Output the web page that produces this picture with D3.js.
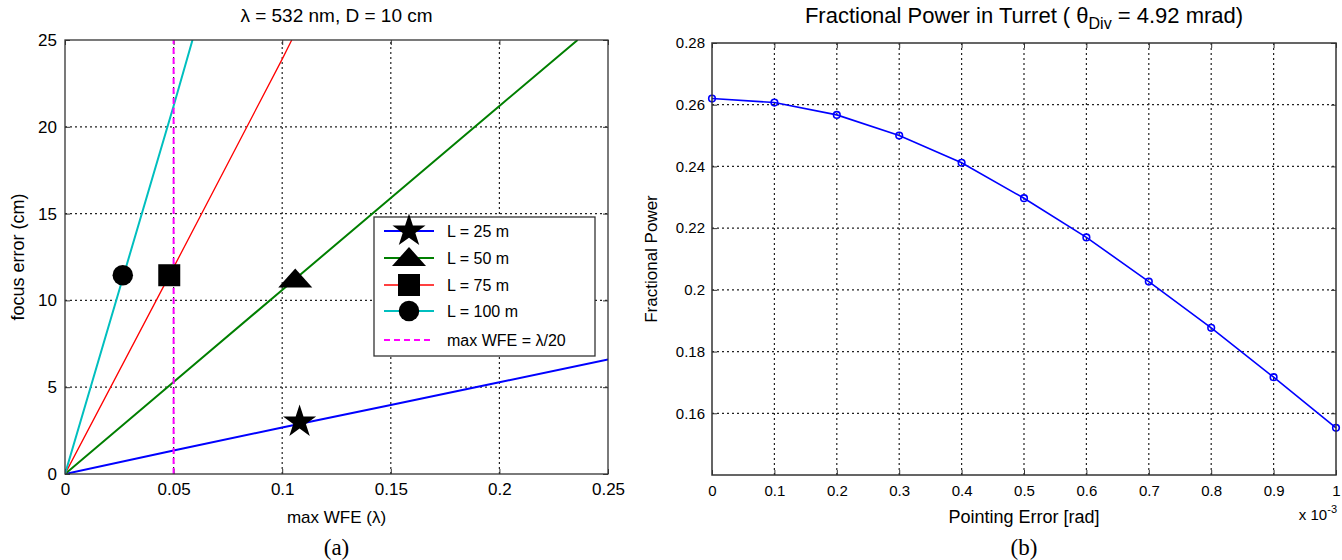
<!DOCTYPE html>
<html><head><meta charset="utf-8">
<script src="https://cdn.jsdelivr.net/npm/d3@7/dist/d3.min.js"></script>
<style>
body{margin:0;background:#fff}
svg{display:block}
text{font-family:"Liberation Sans",Arial,sans-serif;fill:#000}
</style></head>
<body><svg id="c" width="1342" height="560"></svg>
<script>
// ---------- Data: chart (a) ----------
const wfe25 = [0, 0.05, 0.1, 0.15, 0.2, 0.25];
const focus25 = [0, 1.35, 2.68, 3.98, 5.28, 6.6];
const wfe50 = [0, 0.05, 0.1, 0.15, 0.2, 0.236];
const focus50 = [0, 5.3, 10.6, 15.9, 21.2, 25];
const wfe75 = [0, 0.05, 0.1, 0.1044];
const focus75 = [0, 11.9, 23.9, 25];
const wfe100 = [0, 0.025, 0.05, 0.0587];
const focus100 = [0, 10.6, 21.2, 25];
const seriesNames = ["L = 25 m", "L = 50 m", "L = 75 m", "L = 100 m"];
const markerWFE = [0.108, 0.106, 0.048, 0.0266];
const markerFocus = [3.0, 11.2, 11.45, 11.45];
const limitWFE = 0.05;
const limitName = "max WFE = \u03bb/20";
const xTicksA = [0, 0.05, 0.1, 0.15, 0.2, 0.25];
const xTickLabelsA = ["0", "0.05", "0.1", "0.15", "0.2", "0.25"];
const yTicksA = [0, 5, 10, 15, 20, 25];

// ---------- Data: chart (b) ----------
const pointErr = [0, 0.1, 0.2, 0.3, 0.4, 0.5, 0.6, 0.7, 0.8, 0.9, 1.0]; // x 10^-3 rad
const fracPower = [0.262, 0.2607, 0.2567, 0.2500, 0.2412, 0.2297, 0.2170, 0.2027, 0.1877, 0.1717, 0.1553];
const xTicksB = [0, 0.1, 0.2, 0.3, 0.4, 0.5, 0.6, 0.7, 0.8, 0.9, 1.0];
const xTickLabelsB = ["0", "0.1", "0.2", "0.3", "0.4", "0.5", "0.6", "0.7", "0.8", "0.9", "1"];
const yTicksB = [0.16, 0.18, 0.2, 0.22, 0.24, 0.26, 0.28];
const yTickLabelsB = ["0.16", "0.18", "0.2", "0.22", "0.24", "0.26", "0.28"];

const svg = d3.select("#c");
const gridDash = "2,3";

function frame(g, x, y, xt, xl, yt, yl, fs, pad) {
  const [x0, x1] = x.range(), [y0, y1] = y.range();
  g.append("g").selectAll("line").data(xt.filter(v => x(v) > x0 + 1 && x(v) < x1 - 1)).join("line")
    .attr("x1", d => x(d)).attr("x2", d => x(d)).attr("y1", y0).attr("y2", y1)
    .attr("stroke", "#222").attr("stroke-width", 1.2).attr("stroke-dasharray", gridDash);
  g.append("g").selectAll("line").data(yt.filter(v => y(v) < y0 - 1 && y(v) > y1 + 1)).join("line")
    .attr("y1", d => y(d)).attr("y2", d => y(d)).attr("x1", x0).attr("x2", x1)
    .attr("stroke", "#222").attr("stroke-width", 1.2).attr("stroke-dasharray", gridDash);
  const ax = (a, t) => {
    t.call(a);
    t.select(".domain").remove();
    t.selectAll(".tick line").attr("stroke", "#333");
    t.selectAll("text").style("font-family", fs.family).style("font-size", fs.size + "px").attr("fill", "#000");
  };
  ax(d3.axisBottom(x).tickValues(xt).tickSize(-5).tickPadding(pad.x).tickFormat((d, i) => xl[i]),
     g.append("g").attr("transform", `translate(0,${y0})`));
  ax(d3.axisTop(x).tickValues(xt).tickSize(-5).tickFormat(""),
     g.append("g").attr("transform", `translate(0,${y1})`));
  ax(d3.axisLeft(y).tickValues(yt).tickSize(-5).tickPadding(pad.y).tickFormat((d, i) => yl ? yl[i] : d),
     g.append("g").attr("transform", `translate(${x0},0)`));
  ax(d3.axisRight(y).tickValues(yt).tickSize(-5).tickFormat(""),
     g.append("g").attr("transform", `translate(${x1},0)`));
}

// ================= Chart (a) =================
const A = {l: 65, r: 608, t: 40, b: 474};
const xA = d3.scaleLinear().domain([0, 0.25]).range([A.l, A.r]);
const yA = d3.scaleLinear().domain([0, 25]).range([A.b, A.t]);
const gA = svg.append("g");
frame(gA, xA, yA, xTicksA, xTickLabelsA, yTicksA, null, {family: '"Liberation Sans",Arial,sans-serif', size: 17}, {x: 9, y: 8});

gA.append("clipPath").attr("id", "clipA").append("rect")
  .attr("x", A.l).attr("y", A.t).attr("width", A.r - A.l).attr("height", A.b - A.t);
const plotA = gA.append("g").attr("clip-path", "url(#clipA)");
const lineA = d3.line().x(d => xA(d[0])).y(d => yA(d[1]));
const seriesA = [
  {x: wfe25, y: focus25, color: "#0000ff", w: 2},
  {x: wfe50, y: focus50, color: "#007f00", w: 2},
  {x: wfe75, y: focus75, color: "#ff0000", w: 1.3},
  {x: wfe100, y: focus100, color: "#00bfbf", w: 2}
];
seriesA.forEach(s => {
  plotA.append("path").datum(s.x.map((v, i) => [v, s.y[i]])).attr("d", lineA)
    .attr("fill", "none").attr("stroke", s.color).attr("stroke-width", s.w);
});
plotA.append("line").attr("x1", xA(limitWFE)).attr("x2", xA(limitWFE)).attr("y1", yA(0)).attr("y2", yA(25))
  .attr("stroke", "#ff00ff").attr("stroke-width", 2).attr("stroke-dasharray", "6,4");

const markerPath = [
  d3.symbol(d3.symbolStar, 340)(),
  "M-17,8L0,-11L17,8Z",
  "M-11,-11H11V11H-11Z",
  d3.symbol(d3.symbolCircle, 330)()
];
markerWFE.forEach((v, i) => {
  gA.append("path").attr("d", markerPath[i])
    .attr("transform", `translate(${xA(v)},${yA(markerFocus[i])})`).attr("fill", "#000");
});

gA.append("rect").attr("x", A.l).attr("y", A.t).attr("width", A.r - A.l).attr("height", A.b - A.t)
  .attr("fill", "none").attr("stroke", "#333").attr("stroke-width", 1.3);

// legend
const leg = gA.append("g");
leg.append("rect").attr("x", 374).attr("y", 217).attr("width", 221).attr("height", 139)
  .attr("fill", "#fff").attr("stroke", "#333").attr("stroke-width", 1.3);
const legY = [231, 258, 285, 311, 340];
seriesA.forEach((s, i) => {
  leg.append("line").attr("x1", 384).attr("x2", 434).attr("y1", legY[i]).attr("y2", legY[i])
    .attr("stroke", s.color).attr("stroke-width", s.w);
  leg.append("path").attr("d", markerPath[i]).attr("transform", `translate(409,${legY[i]})`).attr("fill", "#000");
  leg.append("text").attr("x", 447).attr("y", legY[i]).attr("dy", "0.35em").style("font-size", "16px").text(seriesNames[i]);
});
leg.append("line").attr("x1", 384).attr("x2", 434).attr("y1", legY[4]).attr("y2", legY[4])
  .attr("stroke", "#ff00ff").attr("stroke-width", 2).attr("stroke-dasharray", "6,4");
leg.append("text").attr("x", 447).attr("y", legY[4]).attr("dy", "0.35em").style("font-size", "16px").text(limitName);

gA.append("text").attr("x", (A.l + A.r) / 2).attr("y", 22).attr("text-anchor", "middle")
  .style("font-size", "19px").text("\u03bb = 532 nm, D = 10 cm");
gA.append("text").attr("x", (A.l + A.r) / 2).attr("y", 523).attr("text-anchor", "middle")
  .style("font-size", "17px").text("max WFE (\u03bb)");
gA.append("text").attr("transform", `translate(24,${(A.t + A.b) / 2}) rotate(-90)`).attr("text-anchor", "middle")
  .style("font-size", "18px").text("focus error (cm)");
gA.append("text").attr("x", (A.l + A.r) / 2).attr("y", 555).attr("text-anchor", "middle")
  .style("font-family", '"Liberation Serif","Times New Roman",serif').style("font-size", "23px").text("(a)");

// ================= Chart (b) =================
const B = {l: 712, r: 1336, t: 43, b: 475};
const xB = d3.scaleLinear().domain([0, 1]).range([B.l, B.r]);
const yB = d3.scaleLinear().domain([0.14, 0.28]).range([B.b, B.t]);
const gB = svg.append("g");
const fam = '"Liberation Sans",Arial,sans-serif';
frame(gB, xB, yB, xTicksB, xTickLabelsB, yTicksB, yTickLabelsB, {family: fam, size: 15}, {x: 10, y: 7});

const lineB = d3.line().x(d => xB(d[0])).y(d => yB(d[1]));
gB.append("path").datum(pointErr.map((v, i) => [v, fracPower[i]])).attr("d", lineB)
  .attr("fill", "none").attr("stroke", "#0000ff").attr("stroke-width", 1.6);
gB.append("g").selectAll("circle").data(pointErr).join("circle")
  .attr("cx", d => xB(d)).attr("cy", (d, i) => yB(fracPower[i])).attr("r", 3.3)
  .attr("fill", "none").attr("stroke", "#0000ff").attr("stroke-width", 1.6);

gB.append("rect").attr("x", B.l).attr("y", B.t).attr("width", B.r - B.l).attr("height", B.b - B.t)
  .attr("fill", "none").attr("stroke", "#333").attr("stroke-width", 1.5);

const tB = gB.append("text").attr("x", (B.l + B.r) / 2).attr("y", 23).attr("text-anchor", "middle")
  .style("font-family", fam).style("font-size", "22px");
tB.append("tspan").text("Fractional Power in  Turret ( \u03b8");
tB.append("tspan").attr("dy", 6).style("font-size", "16px").text("Div");
tB.append("tspan").attr("dy", -6).text(" = 4.92 mrad)");
gB.append("text").attr("x", (B.l + B.r) / 2).attr("y", 523).attr("text-anchor", "middle")
  .style("font-family", fam).style("font-size", "18px").text("Pointing Error [rad]");
gB.append("text").attr("transform", `translate(657,${(B.t + B.b) / 2}) rotate(-90)`).attr("text-anchor", "middle")
  .style("font-family", fam).style("font-size", "17px").text("Fractional Power");
const ex = gB.append("text").attr("x", 1337).attr("y", 520).attr("text-anchor", "end")
  .style("font-family", fam).style("font-size", "15px");
ex.append("tspan").text("x 10");
ex.append("tspan").attr("dy", -7).style("font-size", "11px").text("-3");
gB.append("text").attr("x", (B.l + B.r) / 2).attr("y", 555).attr("text-anchor", "middle")
  .style("font-family", '"Liberation Serif","Times New Roman",serif').style("font-size", "23px").text("(b)");
</script></body></html>
